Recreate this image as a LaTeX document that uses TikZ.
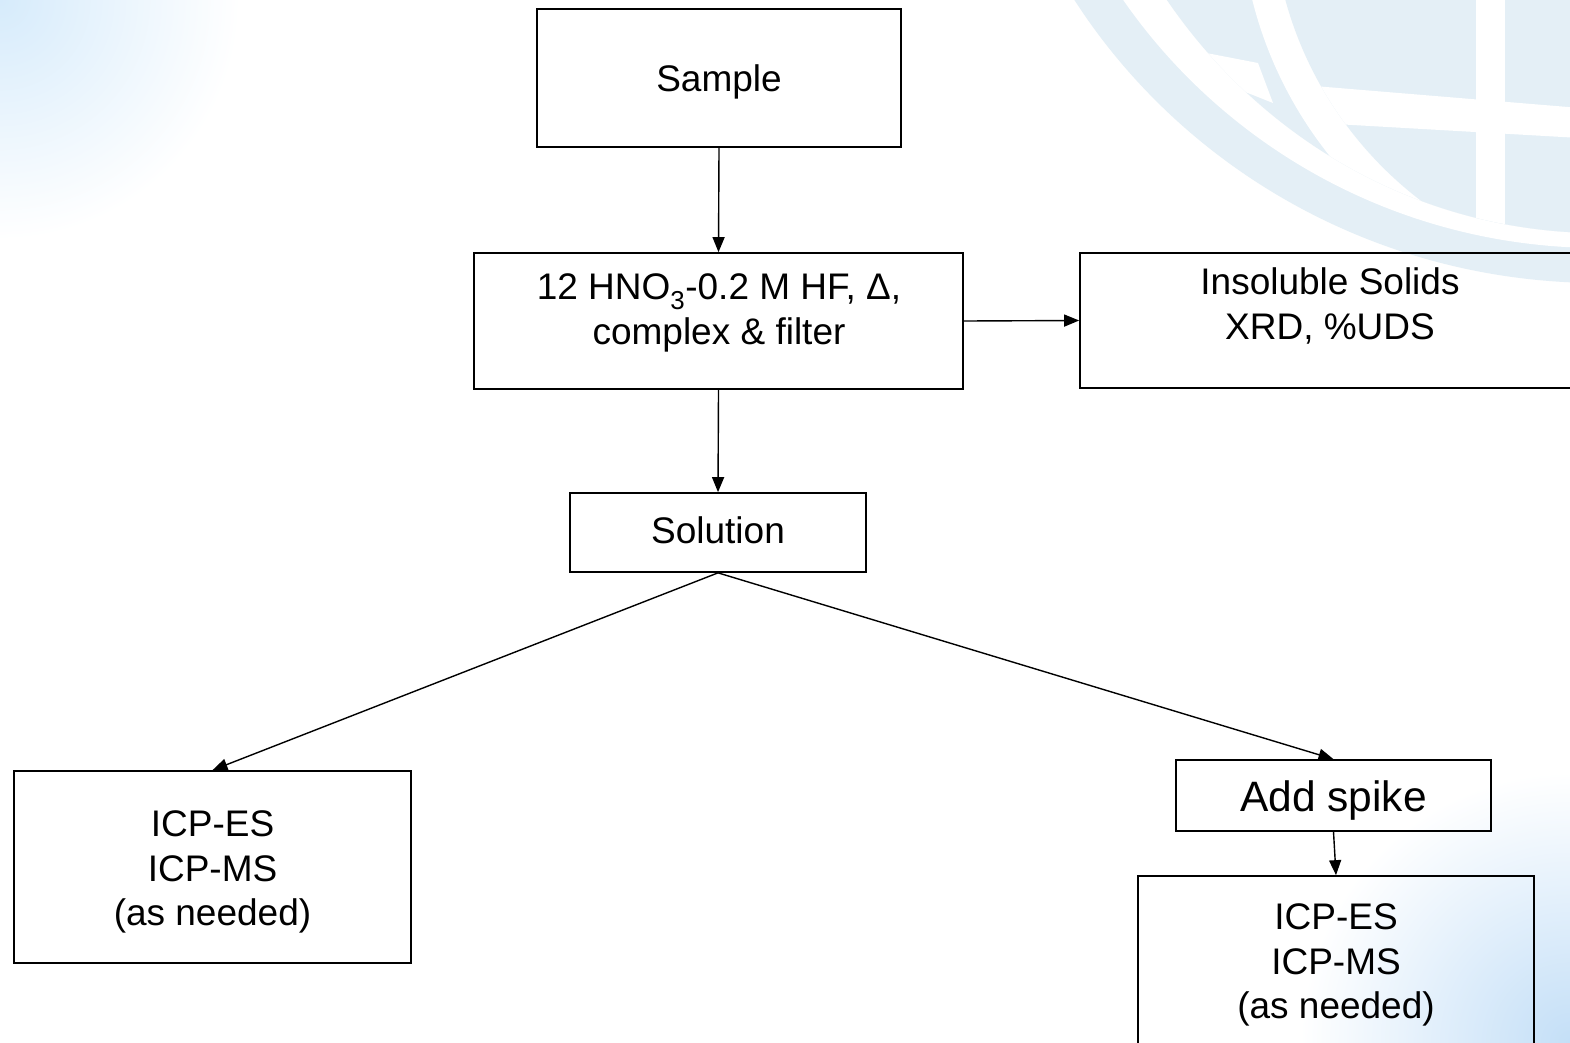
\documentclass[tikz,border=0pt]{standalone}
\usepackage{fontspec}
\setmainfont{Liberation Sans}
\usetikzlibrary{arrows.meta}
\definecolor{globe}{RGB}{228,239,246}
\definecolor{cornerblue}{RGB}{214,235,251}
\definecolor{cornerblueb}{RGB}{196,223,247}
\tikzset{
  box/.style={draw=black, line width=1.7pt, inner sep=0pt},
  txt/.style={align=center, inner sep=0pt, font=\fontsize{37}{44.5}\selectfont},
  bigtxt/.style={align=center, inner sep=0pt, font=\fontsize{42.5}{50}\selectfont},
  conn/.style={draw=black, line width=1.4pt, -{Triangle[length=15pt,width=12pt]}}
}
\begin{document}
\begin{tikzpicture}[x=1pt,y=-1pt]
\clip (0,0) rectangle (1570,1042);
\fill[white] (0,0) rectangle (1570,1042);
% background corner glows
\shade[inner color=cornerblue, outer color=white] (0,0) circle (240pt);
\shade[inner color=cornerblueb, outer color=white] (1570,1042) circle (270pt);
% globe watermark
\begin{scope}
  \fill[globe] (1600,-320) ellipse [x radius=620pt, y radius=603pt];
  \fill[white] (1600,-320) ellipse [x radius=577pt, y radius=568pt];
  \fill[globe] (1600,-320) ellipse [x radius=531pt, y radius=553pt];
  \begin{scope}
    \clip (1600,-320) ellipse [x radius=531pt, y radius=553pt];
    \fill[white] (1650,-100) circle (410pt);
    \fill[globe] (1650,-100) circle (378pt);
    \begin{scope}
      \clip (1650,-100) circle (378pt);
      \fill[white] (1290,84) -- (1580,108) -- (1580,138) -- (1300,122) -- cycle;
      \fill[white] (1476,-10) rectangle (1505,320);
    \end{scope}
    \fill[white] (1165,45) -- (1258,63) -- (1273,103) -- (1195,72) -- cycle;
  \end{scope}
\end{scope}
% boxes
\node[box, minimum width=364pt, minimum height=138pt] (sample) at (719,78) {};
\node[box, minimum width=489pt, minimum height=136pt] (acid) at (718.5,321) {};
\node[box, minimum width=500pt, minimum height=135pt] (insol) at (1330,320.5) {};
\node[box, minimum width=296pt, minimum height=79pt] (sol) at (718,532.5) {};
\node[box, minimum width=397pt, minimum height=192pt] (icpL) at (212.5,867) {};
\node[box, minimum width=315pt, minimum height=71pt] (spike) at (1333.5,795.5) {};
\node[box, minimum width=396pt, minimum height=170pt] (icpR) at (1336,961) {};
% texts
\node[txt] (sampleT) at (719,82) {Sample};
\node[txt] (acidT) at (719,313) {12 HNO\textsubscript{3}-0.2 M HF, Δ,\\complex \& filter};
\node[txt] (insolT) at (1330,306) {Insoluble Solids\\XRD, \%UDS};
\node[txt] (solT) at (718,530) {Solution};
\node[txt] (icpLT) at (212.5,872) {ICP-ES\\ICP-MS\\(as needed)};
\node[bigtxt] (spikeT) at (1333.5,800) {Add spike};
\node[txt] (icpRT) at (1336,965) {ICP-ES\\ICP-MS\\(as needed)};
% connectors
\draw[conn] (sample.south) -- (acid.north);
\draw[conn] (acid.east) -- (insol.west);
\draw[conn] (acid.south) -- (sol.north);
\draw[conn] (sol.south) -- (icpL.north);
\draw[conn] (sol.south) -- (spike.north);
\draw[conn] (spike.south) -- (icpR.north);
\end{tikzpicture}
\end{document}
